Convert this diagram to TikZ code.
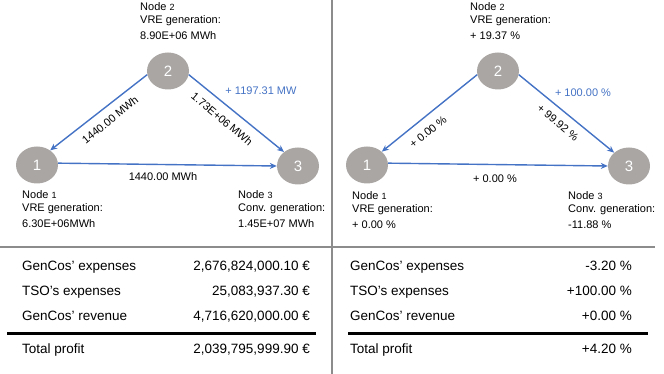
\documentclass[tikz,border=0pt]{standalone}
\usepackage{fontspec}
\setmainfont{Liberation Sans}
\usetikzlibrary{shapes.geometric,arrows.meta}
\definecolor{nodegrey}{HTML}{A9A6A4}
\definecolor{flowblue}{HTML}{4472C4}
\definecolor{sepgrey}{HTML}{8C8C8C}
\begin{document}
\begin{tikzpicture}[x=1pt,y=-1pt,
  bus/.style={ellipse,fill=nodegrey,minimum width=42pt,minimum height=37pt,inner sep=0pt,text=white,font=\fontsize{15}{15}\selectfont},
  flow/.style={draw=flowblue,line width=1.4pt,-{Stealth[length=7pt,width=6pt]}},
  lbl/.style={font=\fontsize{11}{13.5}\selectfont,align=left,anchor=north west,inner sep=0pt},
  elbl/.style={font=\fontsize{11}{13}\selectfont,inner sep=0pt},
  bluelbl/.style={font=\fontsize{11}{13}\selectfont,inner sep=0pt,text=flowblue},
  tlbl/.style={font=\fontsize{13.5}{15}\selectfont,anchor=base west,inner sep=0pt},
  tval/.style={font=\fontsize{13.5}{15}\selectfont,anchor=base east,inner sep=0pt},
  sep/.style={draw=sepgrey,line width=1.5pt},
  rule/.style={draw=black,line width=3pt}]
\useasboundingbox (0,0) rectangle (664,374);
% separators
\draw[sep] (332,0) -- (332,374);
\draw[sep] (0,247) -- (655,247);
% ---------- left network ----------
\node[bus] (a1) at (37,165) {1};
\node[bus] (a2) at (168,71) {2};
\node[bus] (a3) at (298,166) {3};
\draw[flow] (a2.190) -- (a1.48);
\draw[flow] (a2.-10) -- (a3.135);
\draw[flow] (a1.5) -- (a3.west);
\node[lbl] (a2t) at (140,2) {Node {\fontsize{9}{9}\selectfont 2}\\VRE generation:\\[2pt]8.90E+06 MWh};
\node[lbl] (a1t) at (22,190) {Node {\fontsize{9}{9}\selectfont 1}\\VRE generation:\\[2pt]6.30E+06MWh};
\node[lbl] (a3t) at (238,190) {Node {\fontsize{9}{9}\selectfont 3}\\Conv. generation:\\[2pt]1.45E+07 MWh};
\node[elbl,rotate=39] (a21) at (110,120) {1440.00 MWh};
\node[elbl,rotate=-40] (a23) at (222,119) {1.73E+06 MWh};
\node[elbl] (a13) at (163,177) {1440.00 MWh};
\node[bluelbl] (ab) at (261,91) {+ 1197.31 MW};
% ---------- right network ----------
\node[bus] (b1) at (367,165) {1};
\node[bus] (b2) at (498,71) {2};
\node[bus] (b3) at (629,166) {3};
\draw[flow] (b2.190) -- (b1.42);
\draw[flow] (b2.-10) -- (b3.138);
\draw[flow] (b1.5) -- (b3.west);
\node[lbl] (b2t) at (470,2) {Node {\fontsize{9}{9}\selectfont 2}\\VRE generation:\\[2pt]+ 19.37 \%};
\node[lbl] (b1t) at (352,191) {Node {\fontsize{9}{9}\selectfont 1}\\VRE generation:\\[2pt]+ 0.00 \%};
\node[lbl] (b3t) at (568,191) {Node {\fontsize{9}{9}\selectfont 3}\\Conv. generation:\\[2pt]-11.88 \%};
\node[elbl,rotate=39] (b21) at (428,132) {+ 0.00 \%};
\node[elbl,rotate=-40] (b23) at (558,123) {+ 99.92 \%};
\node[elbl] (b13) at (495,179) {+ 0.00 \%};
\node[bluelbl] (bb) at (583,93) {+ 100.00 \%};
% ---------- left table ----------
\node[tlbl] (l1) at (22,270) {GenCos' expenses};
\node[tval] (v1) at (310,270) {2,676,824,000.10 €};
\node[tlbl] (l2) at (22,295) {TSO's expenses};
\node[tval] (v2) at (310,295) {25,083,937.30 €};
\node[tlbl] (l3) at (22,320) {GenCos' revenue};
\node[tval] (v3) at (310,320) {4,716,620,000.00 €};
\draw[rule] (7,333) -- (316,333);
\node[tlbl] (l4) at (22,353) {Total profit};
\node[tval] (v4) at (310,353) {2,039,795,999.90 €};
% ---------- right table ----------
\node[tlbl] (r1) at (350,270) {GenCos' expenses};
\node[tval] (w1) at (632,270) {-3.20 \%};
\node[tlbl] (r2) at (350,295) {TSO's expenses};
\node[tval] (w2) at (632,295) {+100.00 \%};
\node[tlbl] (r3) at (350,320) {GenCos' revenue};
\node[tval] (w3) at (632,320) {+0.00 \%};
\draw[rule] (348,333) -- (648,333);
\node[tlbl] (r4) at (350,353) {Total profit};
\node[tval] (w4) at (632,353) {+4.20 \%};
\end{tikzpicture}
\end{document}
